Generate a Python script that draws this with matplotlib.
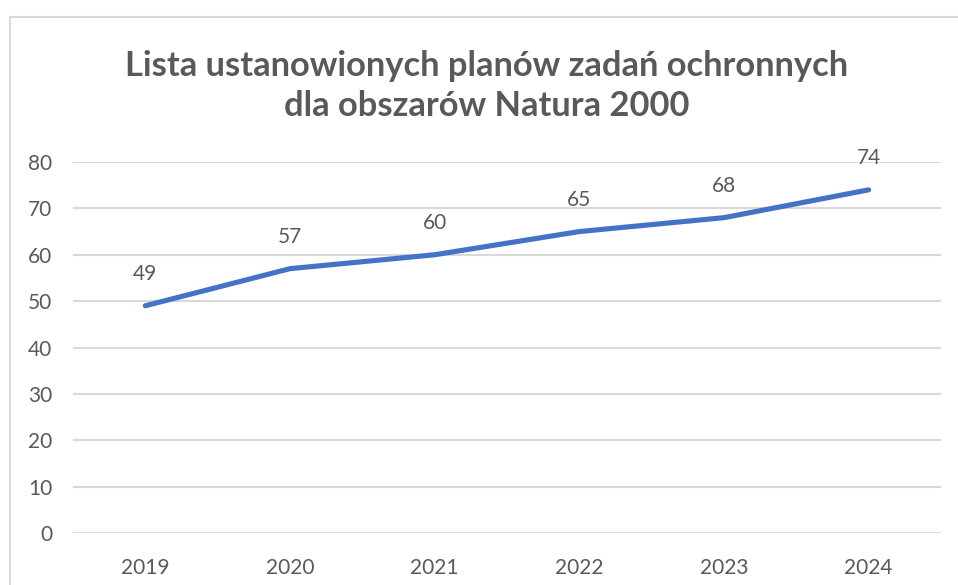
import matplotlib.pyplot as plt
from matplotlib.patches import Rectangle

# data
years = ["2019", "2020", "2021", "2022", "2023", "2024"]
plans = [49, 57, 60, 65, 68, 74]
y_ticks = [0, 10, 20, 30, 40, 50, 60, 70, 80]
title = "Lista ustanowionych planów zadań ochronnych\ndla obszarów Natura 2000"

W, H = 958, 585
txt_color = "#595959"
grid_color = "#D9D9D9"
line_color = "#4472C4"

plt.rcParams["font.family"] = ["Lato", "DejaVu Sans"]

fig = plt.figure(figsize=(W / 100, H / 100), dpi=100)

# chart border (Excel chart area)
fig.patches.append(Rectangle((9.5 / W, -0.1), 1.2, (H - 16.5) / H + 0.1,
                             transform=fig.transFigure, fill=False,
                             edgecolor=grid_color, linewidth=1.5))

ax = fig.add_axes([73 / W, (H - 533) / H, (941 - 73) / W, (533 - 162) / H])
x = list(range(len(years)))
ax.plot(x, plans, color=line_color, linewidth=3.7, solid_capstyle="round",
        solid_joinstyle="round", clip_on=False, zorder=3)

for xi, v in zip(x, plans):
    ax.annotate(str(v), (xi, v), xytext=(0, 23), textcoords="offset points",
                ha="center", va="center", fontsize=15, color=txt_color)

ax.set_xlim(-0.5, len(years) - 0.5)
ax.set_ylim(0, 80)
ax.set_xticks(x)
ax.set_xticklabels(years)
ax.set_yticks(y_ticks)
ax.tick_params(axis="both", length=0, labelsize=15, labelcolor=txt_color)
ax.tick_params(axis="x", pad=18)
ax.tick_params(axis="y", pad=15)
ax.grid(axis="y", color=grid_color, linewidth=1.5)
ax.set_axisbelow(True)
for s in ax.spines.values():
    s.set_visible(False)

fig.text(487 / W, 1 - 86 / H, title, ha="center", va="center",
         fontsize=24.8, fontweight="bold", color=txt_color, linespacing=1.3)

fig.savefig("out.png", dpi=100)
